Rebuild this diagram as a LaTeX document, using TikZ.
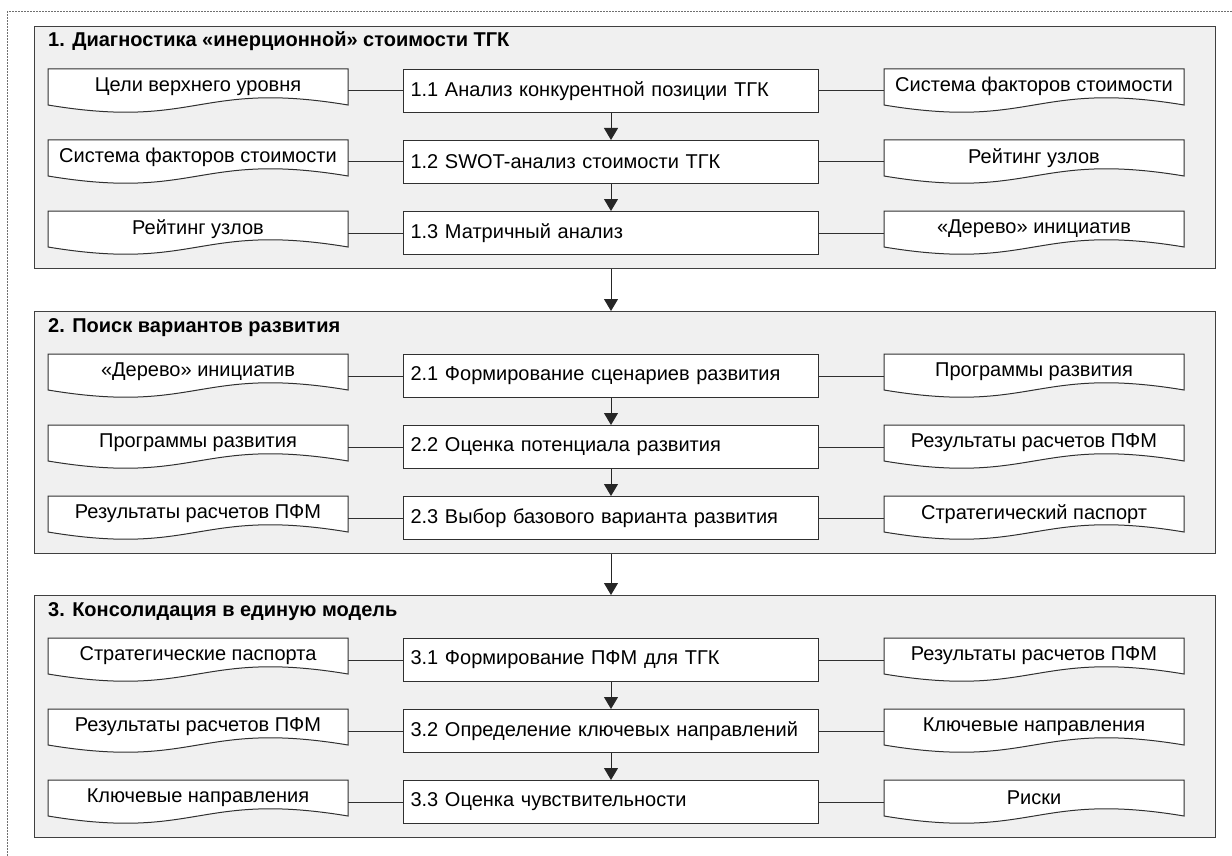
\documentclass[tikz,border=0pt]{standalone}
\usepackage{fontspec}
\setmainfont{Liberation Sans}
\usetikzlibrary{arrows.meta}
\definecolor{grpfill}{HTML}{F0F0F0}
\definecolor{grpline}{HTML}{404040}
\definecolor{lineclr}{HTML}{303030}
\definecolor{dashclr}{HTML}{707070}
\tikzset{
  grp/.style={draw=grpline, fill=grpfill, line width=1.3pt, minimum width=1181pt, minimum height=242pt, inner sep=0pt, anchor=north west},
  grptitle/.style={font=\bfseries\fontsize{20}{24}\selectfont, anchor=base west, inner sep=0pt},
  proc/.style={draw=lineclr, fill=white, line width=1pt, text width=401pt, align=left, inner xsep=7pt, inner ysep=0pt, minimum height=43pt, font=\fontsize{20}{24}\selectfont},
  doctext/.style={minimum width=300pt, minimum height=35pt, inner sep=0pt, font=\fontsize{20}{24}\selectfont},
  docline/.style={draw=lineclr, fill=white, line width=1pt},
  conn/.style={draw=lineclr, line width=1pt},
  arr/.style={draw=black!85, line width=1pt, -{Triangle[width=14pt,length=12pt]}},
  outerline/.style={draw=dashclr, line width=1pt, dash pattern=on 2pt off 1pt},
}
\newcommand\mydoc[4]{%
  \filldraw[docline] (#2,#3) -- (#2+300,#3) -- (#2+300,#3+36) .. controls (#2+150,#3+11) and (#2+150,#3+61) .. (#2,#3+36) -- cycle;
  \node[doctext, anchor=north] (#1) at (#2+150,#3) {#4};
}
\newcommand\myrow[5]{%
  \mydoc{l#1}{48}{#2}{#3}
  \node[proc, anchor=north west] (p#1) at (403,#2) {#4};
  \mydoc{r#1}{884}{#2}{#5}
  \draw[conn] (l#1.east |- p#1.west) -- (p#1.west);
  \draw[conn] (p#1.east) -- (r#1.west |- p#1.east);
}
\begin{document}
\begin{tikzpicture}[x=1pt,y=-1pt]
\useasboundingbox (0,0) rectangle (1232,856);
\fill[white] (0,0) rectangle (1232,856);
\draw[outerline] (7,856) -- (7,12) -- (1232,12);
% groups
\node[grp] (g1) at (34,26) {};
\node[grp] (g2) at (34,311) {};
\node[grp] (g3) at (34,595) {};
\node[grptitle] (t1) at (48,47) {1. Диагностика «инерционной» стоимости ТГК};
\node[grptitle] (t2) at (48,332) {2. Поиск вариантов развития};
\node[grptitle] (t3) at (48,616) {3. Консолидация в единую модель};
% group 1
\myrow{11}{69}{Цели верхнего уровня}{1.1 Анализ конкурентной позиции ТГК}{Система факторов стоимости}
\myrow{12}{140}{Система факторов стоимости}{1.2 SWOT-анализ стоимости ТГК}{Рейтинг узлов}
\myrow{13}{211}{Рейтинг узлов}{1.3 Матричный анализ}{«Дерево» инициатив}
% group 2
\myrow{21}{354}{«Дерево» инициатив}{2.1 Формирование сценариев развития}{Программы развития}
\myrow{22}{425}{Программы развития}{2.2 Оценка потенциала развития}{Результаты расчетов ПФМ}
\myrow{23}{496}{Результаты расчетов ПФМ}{2.3 Выбор базового варианта развития}{Стратегический паспорт}
% group 3
\myrow{31}{638}{Стратегические паспорта}{3.1 Формирование ПФМ для ТГК}{Результаты расчетов ПФМ}
\myrow{32}{709}{Результаты расчетов ПФМ}{3.2 Определение ключевых направлений}{Ключевые направления}
\myrow{33}{780}{Ключевые направления}{3.3 Оценка чувствительности}{Риски}
% arrows
\draw[arr] (p11) -- (p12);
\draw[arr] (p12) -- (p13);
\draw[arr] (p21) -- (p22);
\draw[arr] (p22) -- (p23);
\draw[arr] (p31) -- (p32);
\draw[arr] (p32) -- (p33);
\draw[arr] (p13 |- g1.south) -- (p21 |- g2.north);
\draw[arr] (p23 |- g2.south) -- (p31 |- g3.north);
\end{tikzpicture}
\end{document}
